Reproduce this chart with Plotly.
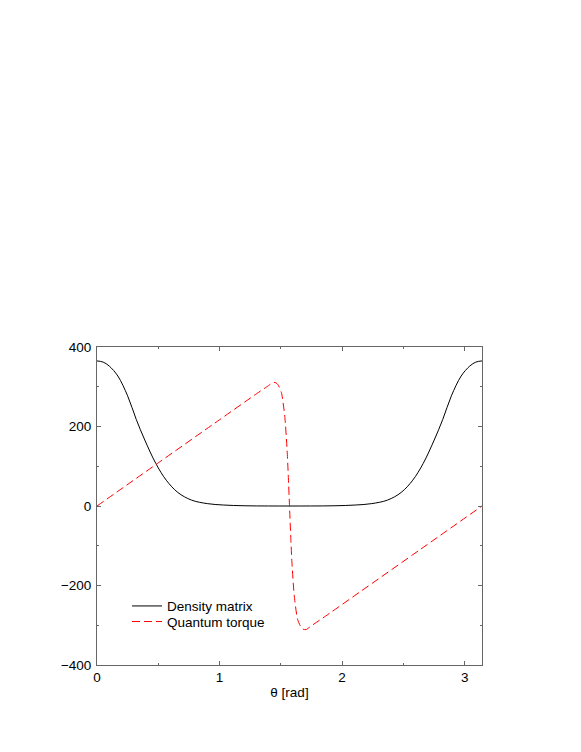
import plotly.graph_objects as go

# Density matrix curve
theta_density = [0.0, 0.05, 0.1, 0.17, 0.25, 0.32, 0.39, 0.48, 0.565, 0.66, 0.77, 0.9, 1.03, 1.2, 1.4, 1.5708,
                 1.7416, 1.9416, 2.1116, 2.2416, 2.3716, 2.4816, 2.5766, 2.6616, 2.7516, 2.8216, 2.8916, 2.9716, 3.0416, 3.0916, 3.1416]
density = [365, 362, 352, 327, 277, 218, 166, 107, 65, 34, 15, 6, 2.5, 0.6, 0.05, 0.0,
           0.05, 0.6, 2.5, 6, 15, 34, 65, 107, 166, 218, 277, 327, 352, 362, 365]

# Quantum torque curve
theta_torque = [0.0, 0.5, 1.0, 1.3, 1.40, 1.436, 1.46, 1.477, 1.505, 1.532, 1.551, 1.561, 1.5708,
                1.5806, 1.5906, 1.6096, 1.6366, 1.6646, 1.6816, 1.7056, 1.7416, 1.8416, 2.1416, 2.6416, 3.1416]
torque = [0, 108.5, 217, 282, 303, 311, 310, 305, 285, 226, 142, 75, 0,
          -75, -142, -226, -285, -305, -310, -311, -303, -282, -217, -108.5, 0]

x_ticks = [0, 1, 2, 3]
y_ticks = [-400, -200, 0, 200, 400]
y_tick_text = ["\u2212400", "\u2212200", "0", "200", "400"]

FONT = "Liberation Sans, Arial, Helvetica, sans-serif"
AX = "#666666"

fig = go.Figure()
fig.add_trace(go.Scatter(x=theta_density, y=density, mode="lines", name="Density matrix",
                         legend="legend",
                         line=dict(color="black", width=1, shape="spline", smoothing=1.0)))
fig.add_trace(go.Scatter(x=theta_torque, y=torque, mode="lines", name="Quantum torque",
                         legend="legend2",
                         line=dict(color="#ff0000", width=1, dash="8px,4px", shape="spline", smoothing=0.6)))

leg_common = dict(xanchor="left", yanchor="middle", bgcolor="rgba(0,0,0,0)",
                  font=dict(family=FONT, size=13.5, color="black"))

fig.update_layout(
    width=581, height=752,
    margin=dict(l=89, r=107, t=339, b=95),
    paper_bgcolor="white", plot_bgcolor="white",
    font=dict(family=FONT, size=13.5, color="black"),
    showlegend=True,
    legend=dict(x=0.078, y=0.185, **leg_common),
    legend2=dict(x=0.078, y=0.136, **leg_common),
    xaxis=dict(range=[0, 3.14159], tickvals=x_ticks, ticktext=[str(v) for v in x_ticks],
               ticks="inside", ticklen=4, tickcolor=AX, showline=True, linecolor=AX, linewidth=1,
               mirror="ticks", showgrid=False, zeroline=False,
               minor=dict(dtick=0.5, ticks="inside", ticklen=2, tickcolor=AX, showgrid=False),
               title=dict(text="θ [rad]", standoff=3, font=dict(family=FONT, size=13.5))),
    yaxis=dict(range=[-400, 400], tickvals=y_ticks, ticktext=y_tick_text,
               ticks="inside", ticklen=4, tickcolor=AX, showline=True, linecolor=AX, linewidth=1,
               mirror="ticks", showgrid=False, zeroline=False, ticklabelstandoff=2,
               minor=dict(dtick=100, ticks="inside", ticklen=2, tickcolor=AX, showgrid=False)),
)

fig.write_html("out.html")
